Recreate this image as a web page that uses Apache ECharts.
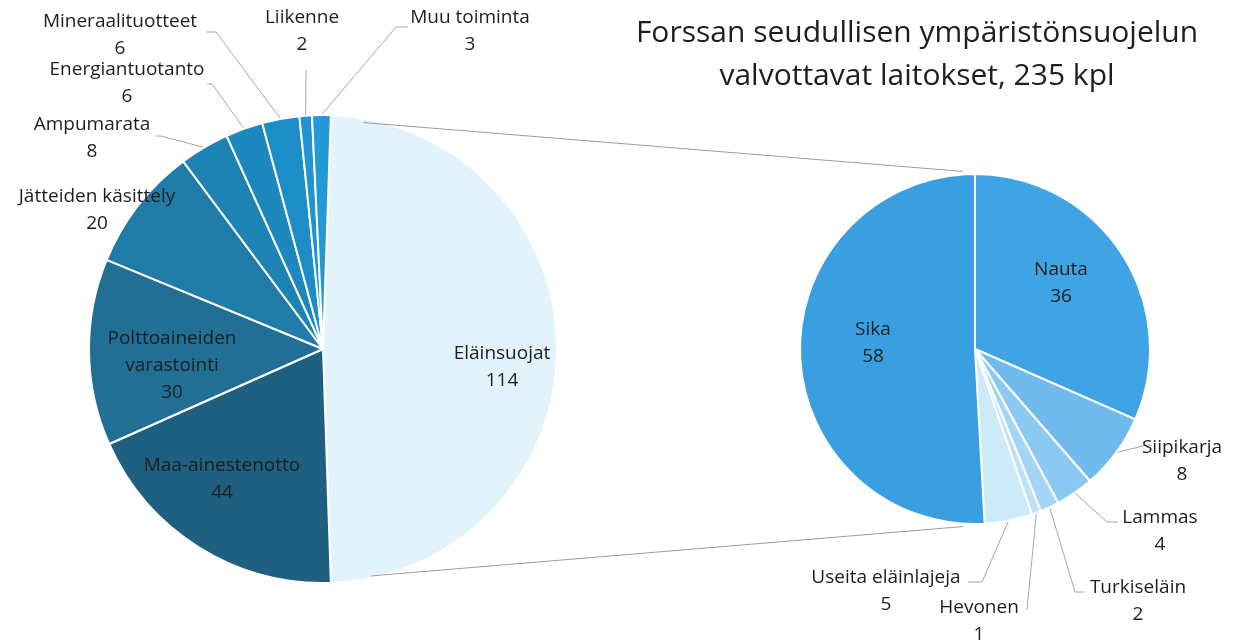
<!DOCTYPE html>
<html>
<head>
<meta charset="utf-8">
<script src="https://cdn.jsdelivr.net/npm/echarts@6/dist/echarts.min.js"></script>
<style>
  html, body { margin: 0; padding: 0; background: #fff; }
  #chart { width: 1251px; height: 644px; }
</style>
</head>
<body>
<div id="chart"></div>
<script>
// vasen piirakka (kaikki laitokset)
let mainNames = ['Eläinsuojat', 'Maa-ainestenotto', 'Polttoaineiden varastointi', 'Jätteiden käsittely',
    'Ampumarata', 'Energiantuotanto', 'Mineraalituotteet', 'Liikenne', 'Muu toiminta'];
let mainValues = [114, 44, 30, 20, 8, 6, 6, 2, 3];
let mainColors = ['#e3f3fb', '#1f5f80', '#216f95', '#1f7ba8', '#1d83b5', '#1c88be', '#1d8dc7', '#1f94d0', '#2399d6'];

// oikea piirakka (eläinsuojat)
let subNames = ['Nauta', 'Siipikarja', 'Lammas', 'Turkiseläin', 'Hevonen', 'Useita eläinlajeja', 'Sika'];
let subValues = [36, 8, 4, 2, 1, 5, 58];
let subColors = ['#40a4e4', '#70baed', '#8cc9f2', '#a5d5f5', '#bde2f8', '#cdeaf7', '#3a9fe1'];

let mainCenter = [323, 349], mainRadius = 234;
let subCenter = [975, 349], subRadius = 175;

// tekstien paikat: x, y = tekstin keskikohta, l = viivan pää
let mainLabelPos = {
    'Eläinsuojat': {x: 502, y: 367},
    'Maa-ainestenotto': {x: 222, y: 479},
    'Polttoaineiden varastointi': {x: 172, y: 366},
    'Jätteiden käsittely': {x: 97, y: 210},
    'Ampumarata': {x: 92, y: 138, l: [[161, 136], [156, 136]]},
    'Energiantuotanto': {x: 127, y: 83, l: [[212, 84], [207, 84]]},
    'Mineraalituotteet': {x: 120, y: 35, l: [[216, 32], [207, 32]]},
    'Liikenne': {x: 302, y: 31, l: [[306, 70]]},
    'Muu toiminta': {x: 470, y: 31, l: [[396, 27], [408, 27]]}
};
let subLabelPos = {
    'Nauta': {x: 1061, y: 283},
    'Sika': {x: 873, y: 343},
    'Siipikarja': {x: 1182, y: 461, l: [[1147, 445], [1152, 445]]},
    'Lammas': {x: 1160, y: 531, l: [[1107, 522], [1118, 522]]},
    'Turkiseläin': {x: 1138, y: 601, l: [[1075, 592], [1084, 592]]},
    'Hevonen': {x: 979, y: 621, l: [[1027, 610]]},
    'Useita eläinlajeja': {x: 886, y: 591, l: [[982, 582], [968, 582]]}
};
let insideNames = ['Eläinsuojat', 'Maa-ainestenotto', 'Polttoaineiden varastointi', 'Jätteiden käsittely', 'Nauta', 'Sika'];

let chart = echarts.init(document.getElementById('chart'));

function buildData(names, values, colors) {
    return names.map(function (n, i) {
        let inside = insideNames.indexOf(n) >= 0;
        return {
            name: n,
            value: values[i],
            itemStyle: {color: colors[i]},
            label: {position: inside ? 'inside' : 'outside'},
            labelLine: {show: !inside}
        };
    });
}

function layoutFn(names, posMap) {
    return function (params) {
        let p = posMap[names[params.dataIndex]];
        let res = {x: p.x, y: p.y, align: 'center', verticalAlign: 'middle'};
        if (p.l && params.labelLinePoints) {
            res.labelLinePoints = [params.labelLinePoints[0]].concat(p.l);
        }
        return res;
    };
}

function labelFormatter(params) {
    let n = params.name === 'Polttoaineiden varastointi' ? 'Polttoaineiden\nvarastointi' : params.name;
    return n + '\n' + params.value;
}

let mainTotal = mainValues.reduce(function (a, b) { return a + b; }, 0);
let mainStart = mainValues[0] / mainTotal * 180;

// yhdysviivat piirakoiden välillä
function arcPoint(c, r, deg) {
    let a = deg * Math.PI / 180;
    return [c[0] + r * Math.cos(a), c[1] - r * Math.sin(a)];
}
let lineTopA = arcPoint(mainCenter, mainRadius, 80), lineTopB = arcPoint(subCenter, subRadius, 94);
let lineBotA = arcPoint(mainCenter, mainRadius, -78), lineBotB = arcPoint(subCenter, subRadius, -94);

let labelFont = {
    fontFamily: 'Open Sans',
    fontSize: 19,
    lineHeight: 27,
    color: '#1e1e1e'
};

let option = {
    animation: false,
    title: {
        text: 'Forssan seudullisen ympäristönsuojelun\nvalvottavat laitokset, 235 kpl',
        left: 912,
        top: 7,
        textAlign: 'center',
        textStyle: {
            fontFamily: 'Open Sans',
            fontSize: 30,
            fontWeight: 'normal',
            lineHeight: 43,
            color: '#1e1e1e'
        }
    },
    graphic: [
        {
            type: 'line',
            z: 100,
            shape: {x1: lineTopA[0], y1: lineTopA[1] + 4, x2: lineTopB[0], y2: lineTopB[1] - 3},
            style: {stroke: '#9c9c9c', lineWidth: 1}
        },
        {
            type: 'line',
            z: 100,
            shape: {x1: lineBotA[0], y1: lineBotA[1] - 2, x2: lineBotB[0], y2: lineBotB[1] + 3},
            style: {stroke: '#9c9c9c', lineWidth: 1}
        }
    ],
    series: [
        {
            name: 'Kaikki',
            type: 'pie',
            center: mainCenter,
            radius: mainRadius,
            startAngle: mainStart,
            clockwise: true,
            avoidLabelOverlap: false,
            itemStyle: {borderColor: '#fff', borderWidth: 2},
            label: Object.assign({formatter: labelFormatter}, labelFont),
            labelLine: {length: 10, length2: 10, lineStyle: {color: '#a6a6a6', width: 1}},
            labelLayout: layoutFn(mainNames, mainLabelPos),
            data: buildData(mainNames, mainValues, mainColors)
        },
        {
            name: 'Eläinsuojat',
            type: 'pie',
            center: subCenter,
            radius: subRadius,
            startAngle: 90,
            clockwise: true,
            avoidLabelOverlap: false,
            itemStyle: {borderColor: '#fff', borderWidth: 2},
            label: Object.assign({formatter: labelFormatter}, labelFont),
            labelLine: {length: 10, length2: 10, lineStyle: {color: '#a6a6a6', width: 1}},
            labelLayout: layoutFn(subNames, subLabelPos),
            data: buildData(subNames, subValues, subColors)
        }
    ]
};
chart.setOption(option);

window.onresize = function () {
    chart.resize();
};
</script>
</body>
</html>
